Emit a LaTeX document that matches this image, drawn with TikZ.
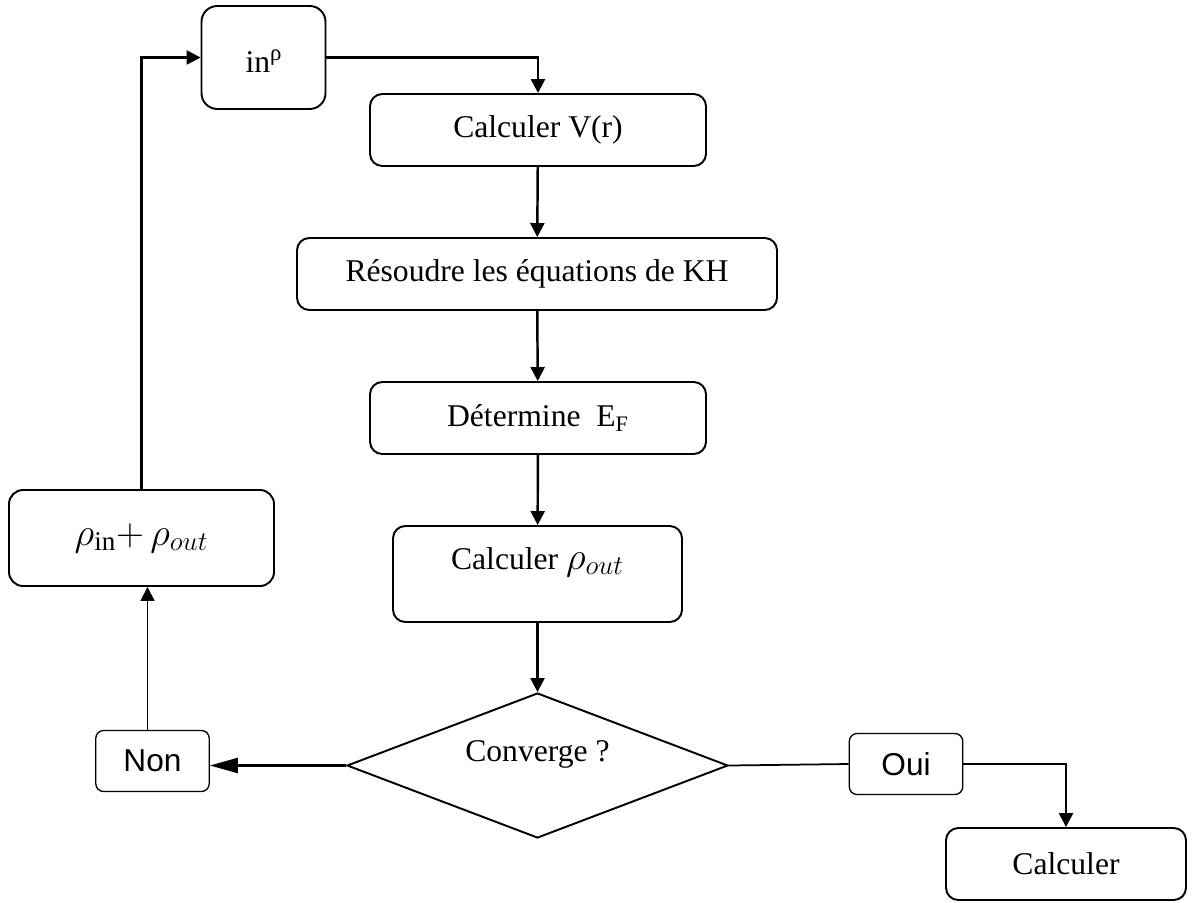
\documentclass[tikz,border=0pt]{standalone}
\usepackage{fix-cm}
\usepackage{fontspec}
\setmainfont{Liberation Serif}
\newfontfamily\arialfont{Liberation Sans}
\usepackage{tikz}
\usetikzlibrary{shapes.geometric, arrows.meta, positioning, calc}
\tikzset{every node/.append style={align=center, inner sep=3pt}}
\newcommand{\bigmath}{\fontsize{22}{26}\selectfont}

\begin{document}
\begin{tikzpicture}[
    font=\fontsize{18}{21}\selectfont,
    box/.style={rectangle, rounded corners=7pt, draw=black, line width=1.1pt,
        minimum width=6.72cm, minimum height=1.44cm, align=center},
    tag/.style={rectangle, rounded corners=4.5pt, draw=black, line width=0.75pt,
        minimum width=2.27cm, minimum height=1.22cm, font=\arialfont\fontsize{18}{21}\selectfont},
    test/.style={diamond, draw=black, line width=1.1pt, aspect=2.6, inner sep=0pt,
        minimum width=7.62cm, minimum height=2.9cm},
    a/.style={-{Triangle[length=2.8mm, width=2.8mm]}, line width=1.4pt},
    na/.style={-{Triangle[length=5.6mm, width=3mm]}, line width=1.4pt}
]
\useasboundingbox (0,0) rectangle (23.94,-18.04);
% ===== BOUCLE SCF =====
\node[box, minimum width=2.48cm, minimum height=2.06cm, rounded corners=9pt,
      text height=0.7cm, text depth=0.12cm] (rhoin) at (5.27,-1.15)
    {in\raisebox{0.35em}{\fontsize{13}{15}\selectfont ρ}};
\node[box] (vr) at (10.76,-2.6) {Calculer V(r)};
\node[box, minimum width=9.6cm] (kh) at (10.74,-5.48) {Résoudre les équations de KH};
\node[box] (ef) at (10.76,-8.36) {Détermine~~E$_{\mathrm{F}}$};
\node[box, minimum width=5.78cm, minimum height=1.92cm, text height=0.45cm, text depth=0.65cm] (rout) at (10.75,-11.48)
    {Calculer {\bigmath$\rho_{out}$}};
\node[test, text height=0.45cm, text depth=0.62cm] (conv) at (10.75,-15.31) {Converge ?};
\draw[a] (rhoin.east) -| (vr.north);
\draw[a] (vr) -- (kh); \draw[a] (kh) -- (ef);
\draw[a] (ef) -- (rout); \draw[a] (rout) -- (conv);
% ===== NON : MELANGE =====
\node[tag] (non) at (3.05,-15.22) {Non};
\node[box, minimum width=5.3cm, minimum height=1.92cm, rounded corners=8pt, font=\bigmath] (sum) at (2.83,-10.76)
    {$\rho_{\mathrm{in}}{+}\,\rho_{out}$};
\draw[na] (conv.west) -- (conv.west -| non.east);
\draw[a, line width=1pt] ([xshift=-0.1cm]non.north) -- ([xshift=-0.1cm]non.north |- sum.south);
\draw[a] (sum.north) |- (rhoin.west);
% ===== OUI =====
\node[tag] (oui) at (18.12,-15.28) {Oui};
\node[box, minimum width=4.8cm] (calc) at (21.32,-17.28) {Calculer};
\draw[line width=1pt] (conv.east) -- (oui.west);
\draw[a] (oui.east) -| (calc.north);
\end{tikzpicture}
\end{document}
